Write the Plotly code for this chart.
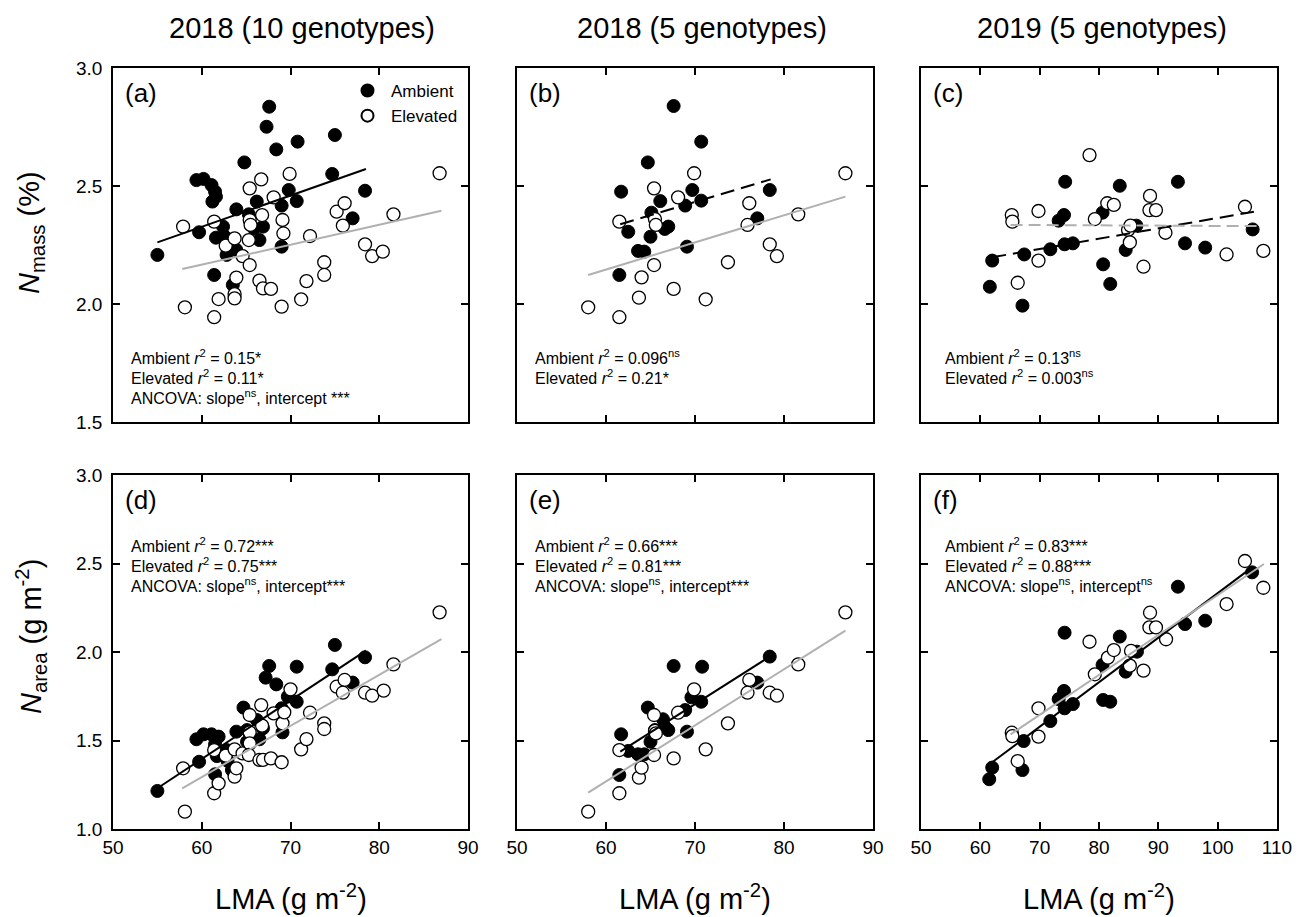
import plotly.graph_objects as go

W, H = 1302, 917
FONT = "Liberation Sans, Arial, sans-serif"

# ---------------- data ----------------
# Panel (a): Nmass vs LMA, 2018 (10 genotypes)
a_amb_x = [55.0, 67.6, 67.3, 70.8, 68.4, 75.0, 64.8, 59.4, 60.2, 61.1, 61.5, 61.6, 61.2, 74.7, 78.4,
           69.8, 66.2, 69.0, 70.7, 63.9, 65.3, 77.0, 59.7, 62.4, 61.6, 62.6, 66.9, 65.9, 66.5, 62.8,
           63.9, 69.0, 61.4, 63.5]
a_amb_y = [2.208, 2.836, 2.751, 2.688, 2.655, 2.716, 2.600, 2.525, 2.530, 2.504, 2.476, 2.455, 2.434,
           2.551, 2.480, 2.483, 2.434, 2.417, 2.436, 2.401, 2.380, 2.363, 2.304, 2.328, 2.281, 2.285,
           2.328, 2.320, 2.271, 2.208, 2.229, 2.243, 2.123, 2.081]
a_elev_x = [57.9, 58.1, 61.4, 61.4, 61.9, 62.7, 63.7, 63.7, 63.7, 63.9, 64.6, 65.4, 65.4, 65.5, 65.4,
            65.3, 66.7, 66.8, 66.5, 66.9, 67.8, 68.1, 69.1, 69.2, 69.0, 69.9, 71.2, 71.8, 72.2, 73.8,
            73.8, 75.2, 76.1, 75.9, 78.4, 79.2, 80.4, 81.6, 86.8]
a_elev_y = [2.328, 1.986, 1.944, 2.349, 2.021, 2.247, 2.278, 2.042, 2.024, 2.112, 2.203, 2.490, 2.356,
            2.335, 2.165, 2.271, 2.528, 2.377, 2.099, 2.066, 2.064, 2.452, 2.356, 2.299, 1.989, 2.551,
            2.020, 2.097, 2.288, 2.177, 2.123, 2.391, 2.427, 2.332, 2.253, 2.203, 2.222, 2.380, 2.554]
a_fit_amb_x, a_fit_amb_y = [55.0, 78.5], [2.261, 2.572]
a_fit_elev_x, a_fit_elev_y = [57.8, 87.0], [2.148, 2.395]

# Panel (b): Nmass vs LMA, 2018 (5 genotypes)
b_amb_x = [67.6, 70.7, 64.7, 61.7, 69.7, 66.1, 70.7, 68.9, 65.1, 78.4, 77.0, 67.0, 66.6, 62.5, 65.0,
           63.6, 64.3, 69.1, 61.5]
b_amb_y = [2.839, 2.688, 2.600, 2.476, 2.483, 2.436, 2.438, 2.417, 2.387, 2.483, 2.363, 2.328, 2.318,
           2.306, 2.285, 2.225, 2.222, 2.243, 2.123]
b_elev_x = [58.0, 61.5, 61.5, 63.7, 64.0, 65.4, 65.4, 65.5, 65.6, 67.6, 68.1, 69.9, 71.2, 73.7, 76.1,
            75.9, 78.4, 79.2, 81.6, 86.9]
b_elev_y = [1.986, 1.944, 2.349, 2.027, 2.113, 2.165, 2.490, 2.360, 2.335, 2.064, 2.452, 2.554, 2.020,
            2.177, 2.427, 2.335, 2.253, 2.203, 2.380, 2.554]
b_fit_amb_x, b_fit_amb_y = [61.6, 78.5], [2.338, 2.528]
b_fit_elev_x, b_fit_elev_y = [58.0, 86.9], [2.123, 2.455]

# Panel (c): Nmass vs LMA, 2019 (5 genotypes)
c_amb_x = [61.6, 62.0, 67.1, 67.4, 71.8, 73.2, 74.1, 74.3, 74.2, 75.6, 80.7, 80.6, 81.9, 83.5, 84.5,
           86.3, 93.3, 94.5, 97.9, 105.9]
c_amb_y = [2.073, 2.184, 1.993, 2.210, 2.232, 2.353, 2.377, 2.518, 2.253, 2.257, 2.168, 2.387, 2.085,
           2.501, 2.229, 2.332, 2.518, 2.257, 2.239, 2.316]
c_elev_x = [65.3, 65.4, 66.3, 69.8, 69.8, 78.4, 79.3, 81.4, 82.5, 84.9, 85.3, 85.2, 87.5, 88.6, 88.5,
            89.6, 91.2, 101.5, 104.6, 107.7]
c_elev_y = [2.377, 2.349, 2.090, 2.394, 2.184, 2.631, 2.360, 2.427, 2.420, 2.314, 2.332, 2.261, 2.158,
            2.458, 2.398, 2.398, 2.302, 2.210, 2.412, 2.225]
c_fit_amb_x, c_fit_amb_y = [62.0, 106.1], [2.198, 2.391]
c_fit_elev_x, c_fit_elev_y = [65.1, 107.2], [2.335, 2.330]

# Panel (d): Narea vs LMA, 2018 (10 genotypes)
d_amb_x = [55.0, 59.7, 59.4, 60.2, 61.1, 61.9, 61.5, 61.7, 62.9, 61.5, 63.4, 63.9, 64.7, 65.1, 66.2,
           66.5, 66.9, 67.6, 67.2, 68.4, 69.0, 69.1, 69.7, 70.7, 70.7, 75.0, 74.7, 78.4, 77.0, 65.1,
           62.8]
d_amb_y = [1.215, 1.380, 1.507, 1.535, 1.535, 1.522, 1.478, 1.412, 1.386, 1.309, 1.333, 1.550, 1.686,
           1.559, 1.616, 1.507, 1.569, 1.921, 1.855, 1.817, 1.682, 1.546, 1.748, 1.917, 1.719, 2.040,
           1.902, 1.970, 1.827, 1.493, 1.446]
d_elev_x = [57.9, 58.1, 61.4, 61.4, 61.9, 62.7, 63.7, 63.7, 63.9, 64.6, 65.4, 65.4, 65.4, 65.3, 66.7,
            66.8, 66.5, 66.9, 67.8, 68.1, 69.1, 69.3, 69.0, 70.0, 71.2, 71.8, 72.2, 73.8, 73.8, 75.2,
            76.1, 75.9, 78.4, 79.2, 80.5, 81.6, 86.8]
d_elev_y = [1.343, 1.098, 1.202, 1.446, 1.258, 1.414, 1.450, 1.296, 1.343, 1.427, 1.644, 1.546, 1.484,
            1.418, 1.700, 1.584, 1.390, 1.390, 1.399, 1.653, 1.597, 1.659, 1.377, 1.789, 1.450, 1.508,
            1.657, 1.597, 1.565, 1.804, 1.842, 1.770, 1.770, 1.753, 1.782, 1.930, 2.224]
d_fit_amb_x, d_fit_amb_y = [55.0, 78.5], [1.230, 2.008]
d_fit_elev_x, d_fit_elev_y = [57.8, 87.0], [1.230, 2.073]

# Panel (e): Narea vs LMA, 2018 (5 genotypes)
e_amb_x = [67.6, 70.8, 78.4, 77.0, 69.6, 70.7, 64.7, 68.9, 66.4, 61.7, 66.6, 67.0, 69.1, 65.0, 62.5,
           63.6, 64.3, 61.5, 65.5]
e_amb_y = [1.921, 1.917, 1.974, 1.827, 1.744, 1.719, 1.686, 1.672, 1.620, 1.535, 1.578, 1.559, 1.550,
           1.493, 1.441, 1.422, 1.422, 1.305, 1.559]
e_elev_x = [58.0, 61.5, 61.5, 63.7, 64.0, 65.4, 65.4, 65.5, 65.6, 67.6, 68.1, 69.9, 71.2, 73.7, 76.1,
            75.9, 78.4, 79.2, 81.6, 86.9]
e_elev_y = [1.098, 1.202, 1.446, 1.290, 1.347, 1.418, 1.644, 1.554, 1.540, 1.399, 1.657, 1.789, 1.450,
            1.597, 1.842, 1.770, 1.770, 1.753, 1.930, 2.224]
e_fit_amb_x, e_fit_amb_y = [61.6, 78.4], [1.437, 1.974]
e_fit_elev_x, e_fit_elev_y = [58.0, 86.9], [1.205, 2.121]

# Panel (f): Narea vs LMA, 2019 (5 genotypes)
f_amb_x = [61.5, 62.0, 67.1, 67.3, 71.8, 73.2, 74.1, 74.2, 75.6, 74.2, 80.6, 80.7, 81.9, 83.5, 84.5,
           86.4, 93.3, 94.5, 97.9, 105.8]
f_amb_y = [1.281, 1.347, 1.333, 1.497, 1.610, 1.734, 1.780, 1.682, 1.706, 2.109, 1.927, 1.729, 1.719,
           2.087, 1.889, 2.002, 2.369, 2.158, 2.177, 2.450]
f_elev_x = [65.3, 65.4, 66.3, 69.8, 69.8, 78.4, 79.3, 81.5, 82.5, 85.4, 85.2, 87.5, 88.6, 88.5, 89.6,
            91.3, 101.5, 104.6, 107.7]
f_elev_y = [1.544, 1.525, 1.384, 1.682, 1.522, 2.058, 1.874, 1.968, 2.011, 2.006, 1.923, 1.895, 2.222,
            2.139, 2.139, 2.072, 2.271, 2.514, 2.363]
f_fit_amb_x, f_fit_amb_y = [62.0, 105.8], [1.377, 2.478]
f_fit_elev_x, f_fit_elev_y = [65.1, 107.8], [1.535, 2.497]

# text
col_titles = ["2018 (10 genotypes)", "2018 (5 genotypes)", "2019 (5 genotypes)"]
panel_letters = ["(a)", "(b)", "(c)", "(d)", "(e)", "(f)"]
stats_text = [
    ["Ambient <i>r</i><sup>2</sup> = 0.15*", "Elevated <i>r</i><sup>2</sup> = 0.11*",
     "ANCOVA: slope<sup>ns</sup>, intercept ***"],
    ["Ambient <i>r</i><sup>2</sup> = 0.096<sup>ns</sup>", "Elevated <i>r</i><sup>2</sup> = 0.21*"],
    ["Ambient <i>r</i><sup>2</sup> = 0.13<sup>ns</sup>", "Elevated <i>r</i><sup>2</sup> = 0.003<sup>ns</sup>"],
    ["Ambient <i>r</i><sup>2</sup> = 0.72***", "Elevated <i>r</i><sup>2</sup> = 0.75***",
     "ANCOVA: slope<sup>ns</sup>, intercept***"],
    ["Ambient <i>r</i><sup>2</sup> = 0.66***", "Elevated <i>r</i><sup>2</sup> = 0.81***",
     "ANCOVA: slope<sup>ns</sup>, intercept***"],
    ["Ambient <i>r</i><sup>2</sup> = 0.83***", "Elevated <i>r</i><sup>2</sup> = 0.88***",
     "ANCOVA: slope<sup>ns</sup>, intercept<sup>ns</sup>"],
]
x_ranges = [[50, 90], [50, 90], [50, 110]]
x_ticks = [[50, 60, 70, 80, 90], [50, 60, 70, 80, 90], [50, 60, 70, 80, 90, 100, 110]]
y_ranges = [[1.5, 3.0], [1.0, 3.0]]
y_ticks = [[1.5, 2.0, 2.5, 3.0], [1.0, 1.5, 2.0, 2.5, 3.0]]
amb_dash = ["solid", "14px,7px", "14px,7px", "solid", "solid", "solid"]
elev_dash = ["solid", "solid", "12px,6px", "solid", "solid", "solid"]

panels = [
    (a_amb_x, a_amb_y, a_elev_x, a_elev_y, a_fit_amb_x, a_fit_amb_y, a_fit_elev_x, a_fit_elev_y),
    (b_amb_x, b_amb_y, b_elev_x, b_elev_y, b_fit_amb_x, b_fit_amb_y, b_fit_elev_x, b_fit_elev_y),
    (c_amb_x, c_amb_y, c_elev_x, c_elev_y, c_fit_amb_x, c_fit_amb_y, c_fit_elev_x, c_fit_elev_y),
    (d_amb_x, d_amb_y, d_elev_x, d_elev_y, d_fit_amb_x, d_fit_amb_y, d_fit_elev_x, d_fit_elev_y),
    (e_amb_x, e_amb_y, e_elev_x, e_elev_y, e_fit_amb_x, e_fit_amb_y, e_fit_elev_x, e_fit_elev_y),
    (f_amb_x, f_amb_y, f_elev_x, f_elev_y, f_fit_amb_x, f_fit_amb_y, f_fit_elev_x, f_fit_elev_y),
]

# ---------------- layout geometry (pixels) ----------------
col_px = [(113, 468), (517, 873), (921, 1277)]
row_px = [(68, 422), (475, 829)]


def px_x(p):
    return p / W


def px_y(p):
    return 1 - p / H


fig = go.Figure()
layout = dict(
    width=W, height=H, margin=dict(l=0, r=0, t=0, b=0, autoexpand=False),
    paper_bgcolor="white", plot_bgcolor="white",
    font=dict(family=FONT, color="black"),
    showlegend=True,
    legend=dict(x=px_x(344), y=px_y(73), xanchor="left", yanchor="top",
                bgcolor="rgba(0,0,0,0)", font=dict(size=17, family=FONT),
                itemsizing="constant", itemwidth=37),
)
annotations = []

for i, (ax, ay, ex, ey, fax, fay, fex, fey) in enumerate(panels):
    col, row = i % 3, i // 3
    n = i + 1
    xa = "x" if n == 1 else f"x{n}"
    ya = "y" if n == 1 else f"y{n}"
    x0, x1 = col_px[col]
    y0, y1 = row_px[row]
    axis_common = dict(showline=True, linecolor="black", linewidth=1.5, mirror="allticks",
                       ticks="inside", ticklen=7, tickwidth=1.5, tickcolor="black",
                       showgrid=False, zeroline=False, automargin=False,
                       tickfont=dict(size=19, family=FONT, color="black"))
    layout["xaxis" if n == 1 else f"xaxis{n}"] = dict(
        axis_common, domain=[px_x(x0), px_x(x1)], range=x_ranges[col],
        tickvals=x_ticks[col], showticklabels=(row == 1), anchor=ya)
    layout["yaxis" if n == 1 else f"yaxis{n}"] = dict(
        axis_common, domain=[px_y(y1), px_y(y0)], range=y_ranges[row],
        tickvals=y_ticks[row], tickformat=".1f", showticklabels=(col == 0), anchor=xa,
        ticklabelstandoff=5)

    fig.add_trace(go.Scatter(x=ax, y=ay, mode="markers", xaxis=xa, yaxis=ya, name="Ambient",
                             showlegend=(i == 0),
                             marker=dict(size=13, color="black", line=dict(color="black", width=1))))
    fig.add_trace(go.Scatter(x=ex, y=ey, mode="markers", xaxis=xa, yaxis=ya, name="Elevated",
                             showlegend=(i == 0),
                             marker=dict(size=13, color="white", line=dict(color="black", width=1.3))))
    fig.add_trace(go.Scatter(x=fax, y=fay, mode="lines", xaxis=xa, yaxis=ya, showlegend=False,
                             line=dict(color="black", width=2, dash=amb_dash[i])))
    fig.add_trace(go.Scatter(x=fex, y=fey, mode="lines", xaxis=xa, yaxis=ya, showlegend=False,
                             line=dict(color="#b0b0b0", width=2, dash=elev_dash[i])))

    # panel letter
    annotations.append(dict(text=panel_letters[i], xref="paper", yref="paper",
                            x=px_x(x0 + 10), y=px_y(y0 + 25), xanchor="left", yanchor="middle",
                            showarrow=False, font=dict(size=26, family=FONT)))
    # stats text
    if row == 0:
        ys = [y0 + 289, y0 + 309, y0 + 329]
    else:
        ys = [y0 + 70, y0 + 90, y0 + 110]
    for j, t in enumerate(stats_text[i]):
        annotations.append(dict(text=t, xref="paper", yref="paper",
                                x=px_x(x0 + 16 + (6 if col == 2 else 0)), y=px_y(ys[j]),
                                xanchor="left", yanchor="middle", showarrow=False,
                                font=dict(size=16, family=FONT)))

# column titles
title_cx = [302, 702, 1102]
for c in range(3):
    annotations.append(dict(text=col_titles[c], xref="paper", yref="paper",
                            x=px_x(title_cx[c]), y=px_y(28), xanchor="center", yanchor="middle",
                            showarrow=False, font=dict(size=29, family=FONT)))
    annotations.append(dict(text="LMA (g m<sup>-2</sup>)", xref="paper", yref="paper",
                            x=px_x((col_px[c][0] + col_px[c][1]) / 2), y=px_y(897),
                            xanchor="center", yanchor="middle", showarrow=False,
                            font=dict(size=29, family=FONT)))

# y-axis titles
annotations.append(dict(text="<i>N</i><sub>mass</sub> (%)", xref="paper", yref="paper",
                        x=px_x(31), y=px_y(233), xanchor="center", yanchor="middle",
                        textangle=-90, showarrow=False, font=dict(size=29, family=FONT)))
annotations.append(dict(text="<i>N</i><sub>area</sub> (g m<sup>-2</sup>)", xref="paper", yref="paper",
                        x=px_x(31), y=px_y(637), xanchor="center", yanchor="middle",
                        textangle=-90, showarrow=False, font=dict(size=29, family=FONT)))

layout["annotations"] = annotations
fig.update_layout(**layout)
fig.write_html("out.html", config={"displayModeBar": False},
               post_script="document.body.style.margin='0';")
